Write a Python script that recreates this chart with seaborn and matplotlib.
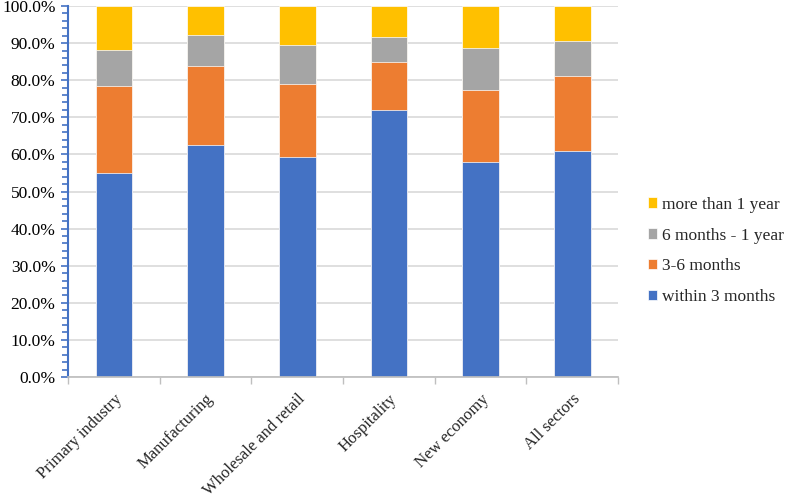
import matplotlib
matplotlib.use("Agg")
import matplotlib.pyplot as plt
import matplotlib.ticker as ticker
import numpy as np
import pandas as pd
import seaborn as sns

sectors = ["Primary industry", "Manufacturing", "Wholesale and retail",
           "Hospitality", "New economy", "All sectors"]
within_3m = [55.0, 62.5, 59.4, 71.9, 58.0, 60.9]
months_3_6 = [23.4, 21.4, 19.7, 13.1, 19.4, 20.2]
months_6_12 = [9.8, 8.3, 10.5, 6.7, 11.4, 9.5]
over_1y = [11.8, 7.8, 10.4, 8.3, 11.2, 9.4]

series = ["within 3 months", "3-6 months", "6 months - 1 year", "more than 1 year"]
colors = ["#4472C4", "#ED7D31", "#A5A5A5", "#FFC000"]

sns.set_theme(style="white")
plt.rcParams["font.family"] = ["Liberation Serif", "DejaVu Serif"]

df = pd.DataFrame({"sector": sectors, series[0]: within_3m, series[1]: months_3_6,
                   series[2]: months_6_12, series[3]: over_1y})
cum = df[series].cumsum(axis=1)

fig = plt.figure(figsize=(7.87, 5.0), dpi=100)
ax = fig.add_axes([0.0864, 0.246, 0.699, 0.742])

# stacked bars: draw cumulative totals from the top segment down
for name, col in reversed(list(zip(series, colors))):
    sns.barplot(x=df["sector"], y=cum[name], color=col, width=0.4,
                saturation=1, edgecolor="white", linewidth=0.5, ax=ax,
                label=name)

ax.set_ylim(0, 100)
ax.set_xlim(-0.5, len(sectors) - 0.5)
ax.yaxis.set_major_locator(ticker.MultipleLocator(10))
ax.yaxis.set_minor_locator(ticker.MultipleLocator(2))
ax.yaxis.set_major_formatter(ticker.FuncFormatter(lambda v, _: f"{v:.1f}%"))
ax.grid(True, axis="y", color="#D9D9D9", linewidth=1.2)
ax.set_axisbelow(True)

for s in ["top", "right"]:
    ax.spines[s].set_visible(False)
ax.spines["left"].set_color("#4472C4")
ax.spines["left"].set_linewidth(1.5)
ax.spines["bottom"].set_color("#BFBFBF")
ax.tick_params(axis="y", which="both", left=True, color="#4472C4",
               labelsize=12.5, labelcolor="black", pad=4)
ax.tick_params(axis="y", which="major", length=5, width=1.2)
ax.tick_params(axis="y", which="minor", length=4, width=1.2)

ax.set_xticks(range(len(sectors)))
ax.set_xticklabels(sectors, rotation=45, ha="right", va="top",
                   rotation_mode="anchor", fontsize=12)
ax.set_xticks(np.arange(-0.5, len(sectors)), minor=True)
ax.tick_params(axis="x", which="major", length=0, pad=10)
ax.tick_params(axis="x", which="minor", bottom=True, length=5,
               color="#BFBFBF")
ax.set_xlabel("")
ax.set_ylabel("")

h, l = ax.get_legend_handles_labels()
ax.legend(h, l, loc="center left", bbox_to_anchor=(0.823, 0.498),
          bbox_transform=fig.transFigure, frameon=False, fontsize=12.5,
          borderpad=0, borderaxespad=0,
          handlelength=0.55, handleheight=0.55, handletextpad=0.3,
          labelspacing=0.85)

fig.savefig("out.png", dpi=100)
